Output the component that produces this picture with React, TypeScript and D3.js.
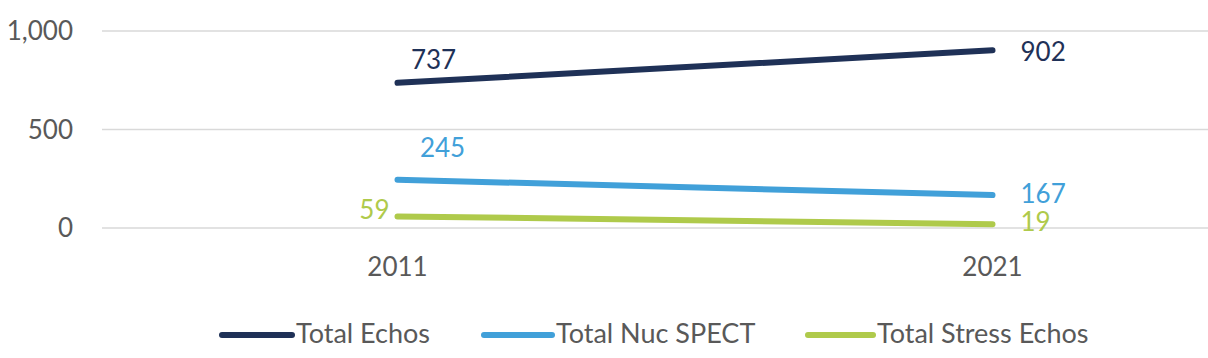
import React from "react";
import * as d3 from "d3";

const years = ["2011", "2021"];
const seriesNames = ["Total Echos", "Total Nuc SPECT", "Total Stress Echos"];
const totalEchos = [737, 902];
const totalNucSpect = [245, 167];
const totalStressEchos = [59, 19];
const yTicks = [0, 500, 1000];

const colors = ["#1f3157", "#41a0d9", "#afca4b"];
// label placement per series: [dx, dy, anchor] for each point
const labelPos: [number, number, string][][] = [
  [[36, -14, "middle"], [28, 11, "start"]],
  [[45, -23, "middle"], [28, 8, "start"]],
  [[-8, 3, "end"], [28, 7, "start"]],
];
const legendPos = [
  { line: [222, 292], text: 296 },
  { line: [484, 552], text: 556 },
  { line: [808, 873], text: 877 },
];

const W = 1208;
const H = 358;
const FONT = "Lato, 'Open Sans', sans-serif";

export default function App() {
  const allSeries = [totalEchos, totalNucSpect, totalStressEchos];
  const x = d3.scaleBand<string>().domain(years).range([100, 1290]).padding(0);
  const cx = (d: string) => (x(d) ?? 0) + x.bandwidth() / 2;
  const y = d3.scaleLinear().domain([0, 1000]).range([228, 31]);
  const line = d3
    .line<number>()
    .x((_, i) => cx(years[i]))
    .y((d) => y(d));
  const fmt = d3.format(",");

  return (
    <svg
      width={W}
      height={H}
      style={{ position: "absolute", left: 0, top: 0, background: "#fff" }}
      fontFamily={FONT}
    >
      <rect width={W} height={H} fill="#fff" />
      {yTicks.map((t) => (
        <g key={t}>
          <line x1={102} x2={1208} y1={y(t)} y2={y(t)} stroke="#d9d9d9" strokeWidth={1.5} />
          <text x={73} y={y(t) + 9} textAnchor="end" fontSize={26} fill="#595959">
            {fmt(t)}
          </text>
        </g>
      ))}
      {years.map((yr) => (
        <text key={yr} x={cx(yr)} y={276} textAnchor="middle" fontSize={26} fill="#595959">
          {yr}
        </text>
      ))}
      {allSeries.map((s, si) => (
        <path
          key={si}
          d={line(s) ?? ""}
          fill="none"
          stroke={colors[si]}
          strokeWidth={6}
          strokeLinecap="round"
        />
      ))}
      {allSeries.map((s, si) =>
        s.map((v, i) => {
          const [dx, dy, anchor] = labelPos[si][i];
          return (
            <text
              key={`${si}-${i}`}
              x={cx(years[i]) + dx}
              y={y(v) + dy}
              textAnchor={anchor as any}
              fontSize={26}
              fill={colors[si]}
            >
              {v}
            </text>
          );
        })
      )}
      {seriesNames.map((n, si) => (
        <g key={n}>
          <line
            x1={legendPos[si].line[0]}
            x2={legendPos[si].line[1]}
            y1={335}
            y2={335}
            stroke={colors[si]}
            strokeWidth={6}
            strokeLinecap="round"
          />
          <text x={legendPos[si].text} y={343} fontSize={27} fill="#595959">
            {n}
          </text>
        </g>
      ))}
    </svg>
  );
}
